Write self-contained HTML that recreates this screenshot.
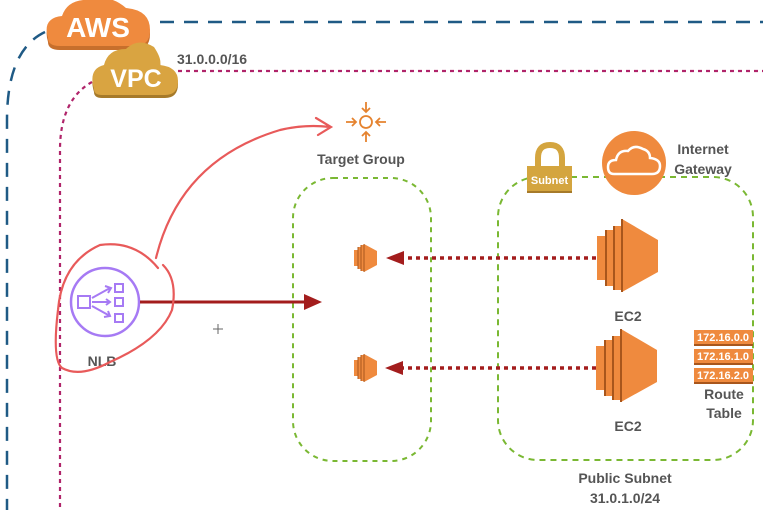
<!DOCTYPE html>
<html><head><style>
html,body{margin:0;padding:0;background:#fff;}
svg{display:block;}
text{font-family:"Liberation Sans",sans-serif;font-weight:bold;}
</style></head><body>
<svg width="763" height="510" viewBox="0 0 763 510" xmlns="http://www.w3.org/2000/svg">
<path d="M160 22 H763 M45 32 Q7 50 7 120 V510" fill="none" stroke="#1f5a85" stroke-width="2.5" stroke-dasharray="14 10"/>
<path d="M178 71 H763 M92 82 Q60 100 60 150 V510" fill="none" stroke="#b0246a" stroke-width="2.2" stroke-dasharray="4 4"/>
<path d="M48 42 Q42 22 62 20 Q68 2 92 4 Q110 -2 126 12 Q150 14 150 34 Q150 50 135 50 H60 Q48 50 48 42Z" fill="#c76f2c"/>
<path d="M48 38 Q42 18 62 16 Q68 -2 92 0 Q110 -6 126 8 Q150 10 150 30 Q150 46 135 46 H60 Q48 46 48 38Z" fill="#ef8a3e"/>
<text x="98" y="37" font-size="28" fill="#fff" text-anchor="middle" font-weight="normal">AWS</text>
<path d="M94 92 Q88 72 104 68 Q108 52 126 52 Q138 40 154 50 Q162 62 160 68 Q178 70 178 84 Q178 98 165 98 H102 Q94 98 94 92Z" fill="#a67a2a"/>
<path d="M94 89 Q88 69 104 65 Q108 49 126 49 Q138 37 154 47 Q162 59 160 65 Q178 67 178 81 Q178 95 165 95 H102 Q94 95 94 89Z" fill="#d9a441"/>
<text x="136" y="87" font-size="25" fill="#fff" text-anchor="middle" font-weight="normal">VPC</text>
<text x="177" y="64" font-size="14" fill="#555">31.0.0.0/16</text>
<g stroke="#e5832f" stroke-width="1.8" fill="none">
<circle cx="366" cy="122" r="6"/>
<path d="M366 102 V112 M362 108 L366 112 L370 108 M366 142 V132 M362 136 L366 132 L370 136 M346 122 H356 M352 118 L356 122 L352 126 M386 122 H376 M380 118 L376 122 L380 126"/>
</g>
<text x="361" y="164" font-size="14" fill="#555" text-anchor="middle">Target Group</text>
<rect x="293" y="178" width="138" height="283" rx="40" fill="none" stroke="#7ab833" stroke-width="2" stroke-dasharray="5 5"/>
<rect x="498" y="177" width="255" height="283" rx="40" fill="none" stroke="#7ab833" stroke-width="2" stroke-dasharray="6 5"/>
<text x="625" y="483" font-size="14" fill="#555" text-anchor="middle">Public Subnet</text>
<text x="625" y="503" font-size="14" fill="#555" text-anchor="middle">31.0.1.0/24</text>
<path d="M538 167 V158 Q538 145 550 145 Q562 145 562 158 V167" fill="none" stroke="#d4a53f" stroke-width="6"/>
<rect x="527" y="166" width="45" height="27" fill="#d4a53f"/>
<rect x="527" y="191" width="45" height="2" fill="#a67a2a"/>
<text x="549.5" y="184" font-size="11" fill="#fff" text-anchor="middle">Subnet</text>
<circle cx="634" cy="163" r="32" fill="#ef8a3e"/>
<path d="M614 174 Q608 174 608 167 Q608 160 616 160 Q618 150 628 151 Q634 144 643 149 Q650 151 650 158 Q660 159 660 166 Q660 174 652 174Z" fill="none" stroke="#fff" stroke-width="2.5"/>
<text x="703" y="154" font-size="14" fill="#555" text-anchor="middle">Internet</text>
<text x="703" y="174" font-size="14" fill="#555" text-anchor="middle">Gateway</text>
<g id="ec2">
<path d="M597 236 H606 V280 H597Z M606 230 H614 V286 H606Z M614 226 H622 V290 H614Z M622 219 L658 240 V272 L622 292Z" fill="#ef8a3e"/>
<path d="M606 230 V286 M614 226 V290 M622 219 V292" stroke="#a8561c" stroke-width="2"/>
</g>
<use href="#ec2" transform="translate(-1,110)"/>
<text x="628" y="321" font-size="14" fill="#555" text-anchor="middle">EC2</text>
<text x="628" y="431" font-size="14" fill="#555" text-anchor="middle">EC2</text>
<g id="sec2">
<path d="M354 250 H358 V266 H354Z M358 247 H361 V269 H358Z M361 245 H364 V271 H361Z M364 244 L377 251 V265 L364 272Z" fill="#ef8a3e"/>
<path d="M358 247 V269 M361 245 V271 M364 244 V272" stroke="#a8561c" stroke-width="1"/>
</g>
<use href="#sec2" transform="translate(0,110)"/>
<g stroke="#a31d1d" stroke-width="3.5" stroke-dasharray="4 4">
<path d="M596 258 H398"/><path d="M596 368 H398"/>
</g>
<path d="M386 258 L404 251 V265Z M385 368 L403 361 V375Z" fill="#a31d1d"/>
<g font-size="11" fill="#fff">
<rect x="694" y="330" width="59" height="14" fill="#ef8a3e"/><rect x="694" y="344" width="59" height="2" fill="#a8561c"/>
<rect x="694" y="349" width="59" height="14" fill="#ef8a3e"/><rect x="694" y="363" width="59" height="2" fill="#a8561c"/>
<rect x="694" y="368" width="59" height="14" fill="#ef8a3e"/><rect x="694" y="382" width="59" height="2" fill="#a8561c"/>
<text x="723" y="341" text-anchor="middle" font-weight="normal">172.16.0.0</text>
<text x="723" y="360" text-anchor="middle" font-weight="normal">172.16.1.0</text>
<text x="723" y="379" text-anchor="middle" font-weight="normal">172.16.2.0</text>
</g>
<text x="724" y="399" font-size="14" fill="#555" text-anchor="middle">Route</text>
<text x="724" y="418" font-size="14" fill="#555" text-anchor="middle">Table</text>
<circle cx="105" cy="302" r="34" fill="none" stroke="#a67af4" stroke-width="2.5"/>
<g stroke="#a67af4" stroke-width="2" fill="none">
<rect x="78" y="296" width="12" height="12"/>
<rect x="115" y="284" width="8" height="8"/><rect x="115" y="298" width="8" height="8"/><rect x="115" y="314" width="8" height="8"/>
<path d="M92 298 L110 288 M92 302 H110 M92 306 L110 316 M105 286 L111 288 L108 293 M106 299 L110 302 L106 305 M108 311 L110 316 L104 317"/>
</g>
<text x="102" y="366" font-size="14" fill="#555" text-anchor="middle">NLB</text>
<path d="M140 302 H306" stroke="#a31d1d" stroke-width="3"/>
<path d="M322 302 L304 294 V310Z" fill="#a31d1d"/>
<path d="M218 324 V334 M213 329 H223" stroke="#666" stroke-width="1"/>
<g fill="none" stroke="#e85a5a" stroke-width="2.2" stroke-linecap="round">
<path d="M156 258 Q180 160 280 130 Q305 124 330 127 M316 118 L331 127 L318 135"/>
<path d="M163 265 Q178 280 172 310 Q160 340 110 362 Q80 378 62 368 Q52 360 58 310 Q62 262 100 245 Q135 240 158 268"/>
</g>
</svg>
</body></html>
